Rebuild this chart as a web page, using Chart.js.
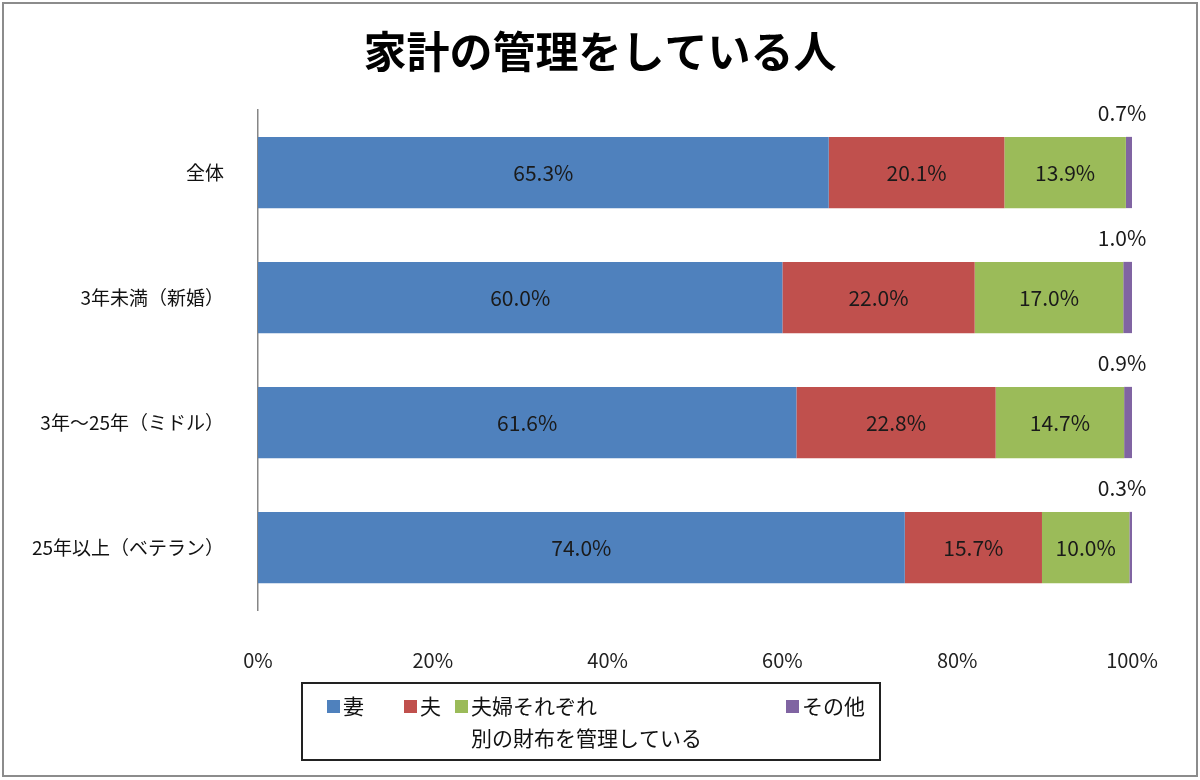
<!DOCTYPE html>
<html>
<head>
<meta charset="utf-8">
<script src="https://cdn.jsdelivr.net/npm/chart.js@4"></script>
<style>
  html, body { margin: 0; padding: 0; background: #fff; }
  #wrap { width: 1200px; height: 780px; }
</style>
</head>
<body>
<div id="wrap"><canvas id="kakei" width="1200" height="780"></canvas></div>
<script>
const categories = ['全体', '3年未満（新婚）', '3年～25年（ミドル）', '25年以上（ベテラン）'];
const wife = [65.3, 60.0, 61.6, 74.0];
const husband = [20.1, 22.0, 22.8, 15.7];
const separate = [13.9, 17.0, 14.7, 10.0];
const other = [0.7, 1.0, 0.9, 0.3];
const seriesNames = ['妻', '夫', '夫婦それぞれ\n別の財布を管理している', 'その他'];
const xTicks = [0, 20, 40, 60, 80, 100];
const titleText = '家計の管理をしている人';

const FONT = '"Noto Sans CJK JP", "Noto Sans", sans-serif';
const colors = ['#4F81BD', '#C0504D', '#9BBB59', '#8064A2'];

// value labels: inside the segment, the last series above the bar end
const valueLabels = {
  id: 'valueLabels',
  afterDatasetsDraw(chart) {
    const ctx = chart.ctx;
    ctx.save();
    ctx.font = '21px ' + FONT;
    ctx.fillStyle = '#1a1a1a';
    ctx.textAlign = 'center';
    ctx.textBaseline = 'middle';
    const last = chart.data.datasets.length - 1;
    chart.data.datasets.forEach((ds, i) => {
      chart.getDatasetMeta(i).data.forEach((bar, j) => {
        const txt = ds.data[j].toFixed(1) + '%';
        if (i === last) {
          ctx.fillText(txt, bar.x - 10, bar.y - bar.height / 2 - 24);
        } else {
          ctx.fillText(txt, (bar.x + bar.base) / 2, bar.y + 1);
        }
      });
    });
    ctx.restore();
  }
};

// title centred on the whole picture, boxed legend, and the picture frame
const decor = {
  id: 'decor',
  afterDraw(chart) {
    const ctx = chart.ctx;
    ctx.save();
    ctx.strokeStyle = '#8c8c8c';
    ctx.lineWidth = 2;
    ctx.strokeRect(3, 3, chart.width - 6, chart.height - 7);

    ctx.fillStyle = '#000';
    ctx.font = 'bold 43px ' + FONT;
    ctx.textAlign = 'center';
    ctx.textBaseline = 'middle';
    ctx.fillText(titleText, chart.width / 2, 52);

    ctx.strokeStyle = '#222';
    ctx.lineWidth = 2;
    ctx.strokeRect(302, 683, 578, 77);

    const xs = [327, 404, 455, 786];
    ctx.font = '21px ' + FONT;
    ctx.textAlign = 'left';
    chart.data.datasets.forEach((ds, i) => {
      ctx.fillStyle = ds.backgroundColor;
      ctx.fillRect(xs[i], 700, 13, 13);
      ctx.fillStyle = '#111';
      seriesNames[i].split('\n').forEach((line, k) => {
        ctx.fillText(line, xs[i] + 16, 706 + k * 32);
      });
    });
    ctx.restore();
  }
};

new Chart(document.getElementById('kakei'), {
  type: 'bar',
  data: {
    labels: categories,
    datasets: [
      { label: '妻', data: wife, backgroundColor: colors[0] },
      { label: '夫', data: husband, backgroundColor: colors[1] },
      { label: '夫婦それぞれ別の財布を管理している', data: separate, backgroundColor: colors[2] },
      { label: 'その他', data: other, backgroundColor: colors[3] }
    ]
  },
  options: {
    indexAxis: 'y',
    responsive: false,
    animation: false,
    layout: { padding: { top: 110, right: 68, bottom: 0, left: 0 } },
    datasets: { bar: { barPercentage: 0.57, categoryPercentage: 1.0 } },
    plugins: {
      legend: { display: false },
      tooltip: { enabled: false },
      title: { display: false }
    },
    scales: {
      x: {
        stacked: true,
        min: 0,
        max: 100,
        afterBuildTicks(scale) {
          scale.ticks = xTicks.map(v => ({ value: v }));
        },
        grid: { display: false },
        border: { display: false },
        ticks: {
          padding: 30,
          color: '#222',
          font: { family: FONT, size: 20 },
          callback: v => v + '%'
        },
        afterFit(scale) { scale.height = 170; }
      },
      y: {
        stacked: true,
        grid: { display: false },
        border: { display: true, color: '#868686', width: 1.5 },
        ticks: {
          padding: 26,
          color: '#111',
          font: { family: FONT, size: 19 }
        },
        afterFit(scale) { scale.width = 258; }
      }
    }
  },
  plugins: [valueLabels, decor]
});
</script>
</body>
</html>
